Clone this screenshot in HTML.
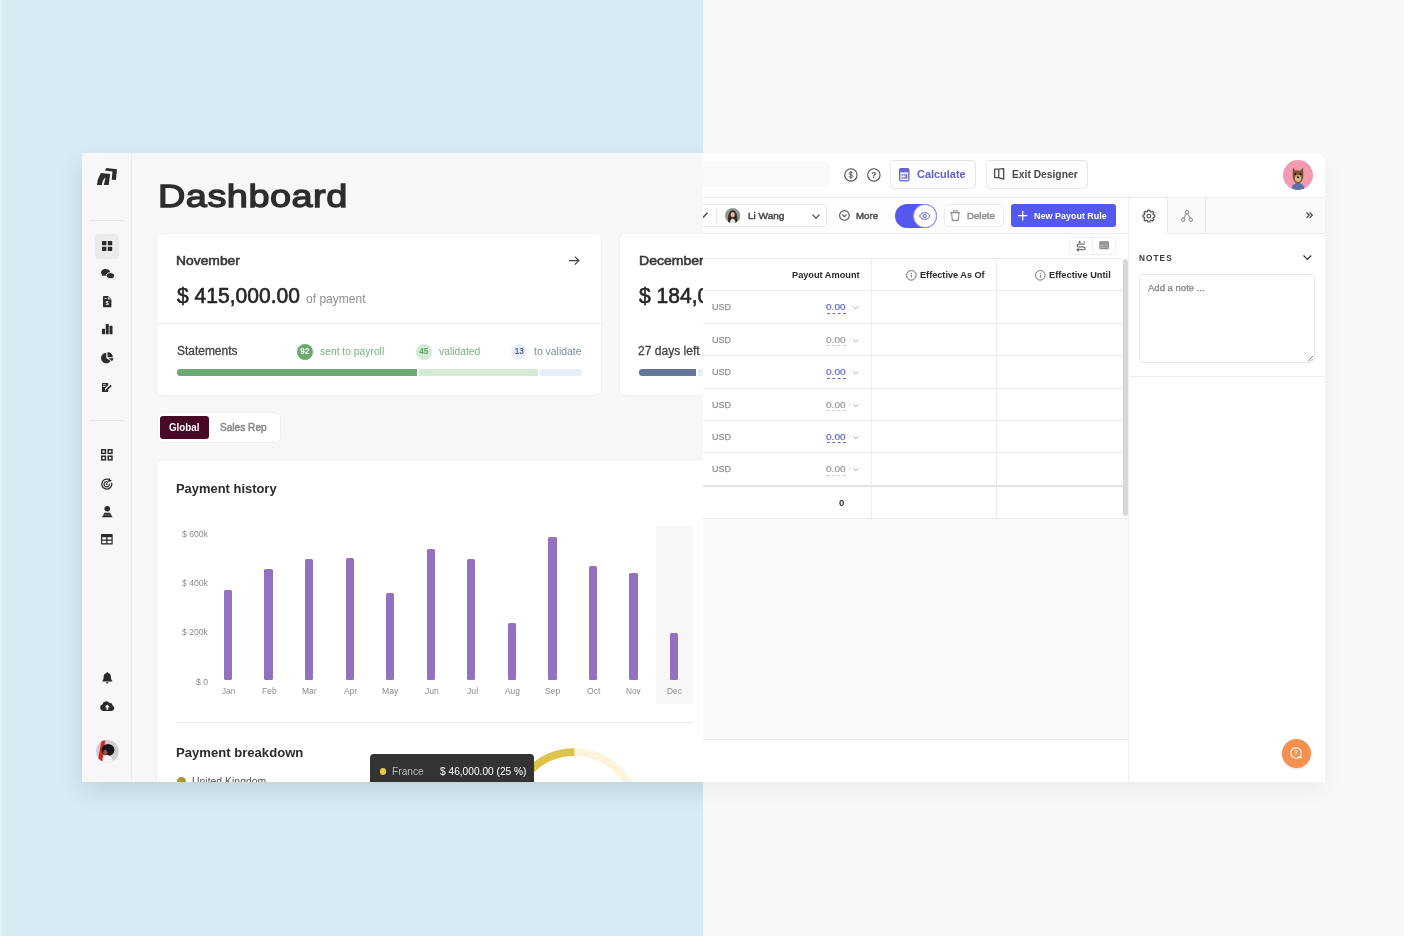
<!DOCTYPE html>
<html>
<head>
<meta charset="utf-8">
<title>Dashboard</title>
<style>
*{box-sizing:border-box;margin:0;padding:0}
html,body{width:1404px;height:936px;overflow:hidden}
body{font-family:"Liberation Sans",sans-serif;background:#f8f8f8;position:relative;color:#2b2b2b}
.abs{position:absolute}
.bgL{left:0;top:0;width:703px;height:936px;background:#d8ebf2}
.bgL:before{content:"";position:absolute;left:0;top:0;width:2px;height:936px;background:#e4f2f7}
.bgR{left:703px;top:0;width:701px;height:936px;background:#f8f8f8}
.shadow{left:84px;top:160px;width:1239px;height:620px}
.shL{box-shadow:0 8px 24px 1px rgba(40,70,90,.16);clip-path:polygon(-84px -160px,619px -160px,619px 780px,-84px 780px)}
.shR{box-shadow:0 8px 24px 1px rgba(0,0,0,.055);clip-path:polygon(619px -160px,1400px -160px,1400px 780px,619px 780px)}
/* clip containers use page coordinates */
.clipL{left:0;top:0;width:703px;height:782px;overflow:hidden;will-change:transform}
.clipR{left:703px;top:0;width:622px;height:782px;overflow:hidden;will-change:transform}
.clipR .in{position:absolute;left:-703px;top:0;width:1404px;height:782px}
.winL{left:82px;top:153px;width:621px;height:629px;background:#f7f7f7}
.sideb{left:131.2px;top:153px;width:1px;height:629px;background:#ebebeb}
.hr{position:absolute;height:1px;background:#e6e6e6}
.ico{position:absolute}
.ico svg{display:block;width:100%;height:100%;overflow:visible}
.act{left:94.5px;top:233.8px;width:24.6px;height:25.2px;border-radius:4px;background:#ebebeb}
h1{position:absolute;left:157.5px;top:176px;font-size:32px;line-height:40px;font-weight:400;color:#2d2d2d;-webkit-text-stroke:1.3px #2d2d2d;letter-spacing:.4px;transform-origin:0 50%;transform:scaleX(1.185);white-space:nowrap}
.card{position:absolute;background:#fff;border:1px solid #efefef;border-radius:6px}
.t{position:absolute;white-space:nowrap;line-height:1;transform-origin:0 50%}
.b{font-weight:700}
.g{color:#8a8a8a}
</style>
</head>
<body>
<div class="abs bgL"></div>
<div class="abs bgR"></div>
<div class="abs shadow shL"></div>
<div class="abs shadow shR"></div>

<!-- LEFT WINDOW : DASHBOARD -->
<div class="abs clipL" id="L">
  <div class="abs winL"></div>
  <div class="abs sideb"></div>
  <div class="hr" style="left:90px;top:220px;width:34px"></div>
  <div class="hr" style="left:90px;top:420px;width:34px"></div>
  <div class="abs act"></div>
  <h1 id="h1">Dashboard</h1>
<div class="ico" style="left:97px;top:168px;width:20px;height:17.5px;"><svg viewBox="0 0 20 17.5"><path fill="#2b2b2b" d="M9.350 .1 L19.950 1.300 L18.950 12 L14.700 11.750 L15.500 3.450 L8 2.550 Z"/><path fill="#2b2b2b" d="M3.900 4.900 L13.100 6.100 L11.750 17 L6.800 17 L8.500 9.600 Q5.400 12 4.900 17 L0 17 Q.3 11.500 2.200 8.500 Z"/></svg></div>
<div class="ico" style="left:102px;top:240.6px;width:10.2px;height:10px;"><svg viewBox="0 0 10.2 10"><g fill="#2b2b2b"><rect x="0" y="0" width="4.4" height="4.3" rx=".4"/><rect x="5.8" y="0" width="4.4" height="4.3" rx=".4"/><rect x="0" y="5.7" width="4.4" height="4.3" rx=".4"/><rect x="5.8" y="5.7" width="4.4" height="4.3" rx=".4"/></g></svg></div>
<div class="ico" style="left:100.6px;top:269.2px;width:13.4px;height:10.2px;"><svg viewBox="0 0 13.4 10.2"><g fill="#2b2b2b"><path d="M4.6 0C2.1 0 0 1.5 0 3.4c0 .9.5 1.7 1.2 2.3L.5 7.3l2.2-.8c.6.2 1.2.3 1.9.3 2.5 0 4.6-1.5 4.6-3.4S7.100 0 4.600 0z"/><path stroke="#f7f7f7" stroke-width=".9" d="M9.400 3.600c2.300 0 4.100 1.400 4.100 3.100 0 .8-.4 1.600-1.100 2.100l.7 1.400-2.100-.7c-.5.100-1 .200-1.600.200-2.300 0-4.100-1.400-4.100-3s1.800-3.100 4.100-3.100z"/></g></svg></div>
<div class="ico" style="left:102.7px;top:296px;width:8.4px;height:11.2px;"><svg viewBox="0 0 8.4 11.2"><path fill="#2b2b2b" d="M.8 0H5l3.400 3.400v7a.8.8 0 0 1-.8.800H.8a.8.8 0 0 1-.8-.800V.8A.8.800 0 0 1 .8 0z"/><path fill="#f7f7f7" d="M4.800.700v2.900h2.900z" opacity=".85"/><text x="4.200" y="9.300" font-size="6" font-weight="700" fill="#f7f7f7" text-anchor="middle" font-family="Liberation Sans">$</text><rect x="1.6" y="2" width="2" height=".9" fill="#f7f7f7"/></svg></div>
<div class="ico" style="left:101.7px;top:324.4px;width:10.5px;height:10.2px;"><svg viewBox="0 0 10.5 10.2"><g fill="#2b2b2b"><rect x="0" y="4.700" width="3" height="5.500" rx=".3"/><rect x="3.750" y="0" width="3" height="10.200" rx=".3"/><rect x="7.500" y="1.800" width="3" height="8.400" rx=".3"/></g></svg></div>
<div class="ico" style="left:101.2px;top:352.1px;width:12.5px;height:11.3px;"><svg viewBox="0 0 12.5 11.3"><g fill="#2b2b2b"><path d="M5.300.800A5.250 5.250 0 1 0 9.600 9.100L5.300 6.050z"/><path d="M6.600 0v5.200h5.200A5.200 5.200 0 0 0 6.600 0z"/><path d="M7.600 6.300h4.900a5.200 5.200 0 0 1-1.500 2.900z"/></g></svg></div>
<div class="ico" style="left:102px;top:383.1px;width:9.8px;height:9px;"><svg viewBox="0 0 9.8 9"><path fill="#2b2b2b" d="M.6 0h5.600v2.200L3.300 5.100 2.900 7.400l2.300-.4L6.200 6v3H0V.6A.6.600 0 0 1 .6 0z"/><path fill="#2b2b2b" d="M8.500 1.700l1.200 1.200-4.700 4.700-1.600.4.400-1.600z"/><rect x="1" y="1.400" width="3" height=".8" fill="#f7f7f7"/><rect x="1" y="3" width="2.200" height=".8" fill="#f7f7f7"/></svg></div>
<div class="ico" style="left:101.2px;top:449.3px;width:11.7px;height:11.6px;"><svg viewBox="0 0 11.7 11.6"><g fill="none" stroke="#2b2b2b" stroke-width="1.5"><rect x=".75" y=".75" width="3.700" height="3.600"/><rect x="7.250" y=".75" width="3.700" height="3.600"/><rect x=".75" y="7.250" width="3.700" height="3.600"/><rect x="7.250" y="7.250" width="3.700" height="3.600"/></g></svg></div>
<div class="ico" style="left:101.2px;top:477.7px;width:11.7px;height:11.4px;"><svg viewBox="0 0 11.7 11.4"><g fill="none" stroke="#2b2b2b"><path stroke-width="1.300" d="M7.600 1.400A5 5 0 1 0 10.600 4.600"/><path stroke-width="1.200" d="M6.400 3.600A2.700 2.700 0 1 0 8.400 5.700"/></g><circle cx="5.700" cy="6.200" r=".9" fill="#2b2b2b"/><path fill="#2b2b2b" d="M8.800 0l.3 1.800 1.800.4-1.700 1.600-1.500-.2-1.700 2-.700-.600 1.900-1.900-.2-1.400z"/></svg></div>
<div class="ico" style="left:101.7px;top:505.9px;width:10.5px;height:11.2px;"><svg viewBox="0 0 10.5 11.2"><g fill="#2b2b2b"><circle cx="5.250" cy="2.800" r="2.800"/><path d="M2.400 6.800h5.700l2.400 4.400H0z"/></g><rect x="1" y="8.700" width="8.500" height=".55" fill="#f7f7f7" opacity=".6"/></svg></div>
<div class="ico" style="left:101.2px;top:534px;width:11.7px;height:10.5px;"><svg viewBox="0 0 11.7 10.5"><rect x="0" y="0" width="11.700" height="10.500" rx=".7" fill="#2b2b2b"/><g fill="#f7f7f7"><rect x="1.200" y="3.200" width="4" height="2.300"/><rect x="6.500" y="3.200" width="4" height="2.300"/><rect x="1.200" y="6.800" width="4" height="2.400"/><rect x="6.500" y="6.800" width="4" height="2.400"/></g></svg></div>
<div class="ico" style="left:101.7px;top:671.5px;width:10.4px;height:11.6px;"><svg viewBox="0 0 10.4 11.6"><g fill="#2b2b2b"><path d="M5.200 0c.5 0 .8.300.8.800v.3c1.800.4 3 1.900 3 3.800 0 2.300.6 3.300 1.300 4 .2.200.1.700-.3.700H.6c-.4 0-.5-.5-.3-.7.700-.7 1.300-1.700 1.300-4 0-1.900 1.200-3.400 3-3.800V.8c0-.5.300-.8.600-.8z"/><path d="M3.800 10.200h2.800a1.400 1.400 0 0 1-2.800 0z"/></g></svg></div>
<div class="ico" style="left:99.7px;top:700.6px;width:14.6px;height:10px;"><svg viewBox="0 0 14.6 10"><path fill="#2b2b2b" d="M3.300 10A3.300 3.300 0 0 1 2.400 3.600 3.700 3.700 0 0 1 9 1.800a3 3 0 0 1 3.600 2.700A2.900 2.900 0 0 1 11.700 10z"/><path fill="#f7f7f7" d="M7.300 3.400l2.500 2.800H8.200v2.500H6.400V6.200H4.800z"/></svg></div>
<div class="ico" style="left:95.8px;top:740px;width:22.7px;height:22.7px;"><svg viewBox="0 0 22.7 22.7"><defs><clipPath id="av1"><circle cx="11.35" cy="11.35" r="11.35"/></clipPath></defs><g clip-path="url(#av1)"><rect width="22.7" height="22.7" fill="#cfd0cf"/><path fill="#d8272b" d="M5.5 0h3.800L6 22.700H1.500z"/><ellipse cx="12" cy="10" rx="6.500" ry="5.900" fill="#1c1718"/><ellipse cx="9.300" cy="12.300" rx="2" ry="2.600" fill="#8a5a44"/><path fill="#f4f4f2" d="M6.800 22.700c0-4 1.300-7.300 4-8 3.500.5 6.500 4 7 8z"/></g></svg></div>
<div class="card" style="left:156.4px;top:232.5px;width:445.3px;height:163px"></div>
<div class="abs" style="left:157.4px;top:323.1px;width:443.3px;height:1.2px;background:#ededed;"></div>
<div class="t" style="left:176.26px;top:254px;font-size:13.4px;color:#383838;-webkit-text-stroke:0.58px #383838;transform:scaleX(1.0348);">November</div>
<div class="t" style="left:177.17px;top:285px;font-size:21.6px;color:#262626;-webkit-text-stroke:0.62px #262626;transform:scaleX(0.9748);">$ 415,000.00</div>
<div class="t" style="left:305.69px;top:293px;font-size:12.2px;color:#8e8e8e;transform:scaleX(0.9873);">of payment</div>
<div class="ico" style="left:568.6px;top:256.2px;width:10.6px;height:9.1px;"><svg viewBox="0 0 11.6 10"><path fill="none" stroke="#444" stroke-width="1.300" d="M0 5h10.600M6.400.600L10.800 5 6.400 9.400"/></svg></div>
<div class="t" style="left:176.71px;top:345px;font-size:12px;color:#444;-webkit-text-stroke:0.30px #444;transform:scaleX(0.9963);">Statements</div>
<div class="abs" style="left:296.9px;top:343.5px;width:16px;height:16px;background:#6aaa6e;border-radius:50%"></div>
<div class="t" style="left:300.36px;top:348px;font-size:8.2px;color:#fff;font-weight:700;">92</div>
<div class="t" style="left:319.71px;top:346px;font-size:10.7px;color:#77b37a;transform:scaleX(0.9649);">sent to payroll</div>
<div class="abs" style="left:415.7px;top:343.5px;width:16px;height:16px;background:#d6ebd6;border-radius:50%"></div>
<div class="t" style="left:419.19px;top:348px;font-size:8.2px;color:#62a567;font-weight:700;">45</div>
<div class="t" style="left:438.56px;top:346px;font-size:10.7px;color:#77b37a;transform:scaleX(0.9642);">validated</div>
<div class="abs" style="left:511.4px;top:343.5px;width:16px;height:16px;background:#e8eef9;border-radius:50%"></div>
<div class="t" style="left:514.63px;top:348px;font-size:8.2px;color:#56688f;font-weight:700;">13</div>
<div class="t" style="left:534.24px;top:346px;font-size:10.7px;color:#7a88a8;transform:scaleX(0.9742);">to validate</div>
<div class="abs" style="left:177px;top:369.3px;width:240.3px;height:6.3px;background:#6aaa6e;border-radius:3.2px 0 0 3.2px"></div>
<div class="abs" style="left:419.2px;top:369.3px;width:118.8px;height:6.3px;background:#d6ebd6;"></div>
<div class="abs" style="left:540.1px;top:369.3px;width:41.5px;height:6.3px;background:#e8eef9;border-radius:0 3.2px 3.2px 0"></div>
<div class="card" style="left:618.7px;top:232.5px;width:445.3px;height:163px"></div>
<div class="t" style="left:638.65px;top:254px;font-size:13.4px;color:#383838;-webkit-text-stroke:0.57px #383838;transform:scaleX(1.0481);">December</div>
<div class="t" style="left:639.27px;top:285px;font-size:21.6px;color:#262626;-webkit-text-stroke:0.62px #262626;transform:scaleX(0.9748);">$ 184,000.00</div>
<div class="t" style="left:638.34px;top:345px;font-size:12px;color:#444;-webkit-text-stroke:0.30px #444;transform:scaleX(1.0053);">27 days left</div>
<div class="abs" style="left:638.8px;top:369.3px;width:57.5px;height:6.3px;background:#66759a;border-radius:3.2px 0 0 3.2px"></div>
<div class="abs" style="left:698px;top:369.3px;width:100px;height:6.3px;background:#e8eef9;"></div>
<div class="card" style="left:156.6px;top:411.7px;width:124.3px;height:31.1px;border-radius:5.5px"></div>
<div class="abs" style="left:160.4px;top:415.7px;width:48.4px;height:23.2px;background:#4a0828;border-radius:3px"></div>
<div class="t" style="left:169.10px;top:422px;font-size:10.5px;color:#fff;font-weight:700;transform:scaleX(0.9335);">Global</div>
<div class="t" style="left:219.59px;top:422px;font-size:10.8px;color:#8a8a8a;-webkit-text-stroke:0.53px #8a8a8a;transform:scaleX(0.9369);">Sales Rep</div>
<div class="card" style="left:156.4px;top:458.8px;width:700px;height:400px"></div>
<div class="t" style="left:176.23px;top:482px;font-size:13.6px;color:#2b2b2b;font-weight:700;transform:scaleX(0.9510);">Payment history</div>
<div class="t" style="left:182.11px;top:530px;font-size:9px;color:#8c8c8c;transform:scaleX(0.9577);">$ 600k</div>
<div class="t" style="left:182.11px;top:579px;font-size:9px;color:#8c8c8c;transform:scaleX(0.9577);">$ 400k</div>
<div class="t" style="left:182.11px;top:628px;font-size:9px;color:#8c8c8c;transform:scaleX(0.9577);">$ 200k</div>
<div class="t" style="left:196.31px;top:678px;font-size:9px;color:#8c8c8c;transform:scaleX(0.9616);">$ 0</div>
<div class="abs" style="left:656.4px;top:526.2px;width:37.3px;height:177.8px;background:#f7f7f7;border-radius:3px"></div>
<div class="abs" style="left:223.9px;top:589.6px;width:8.3px;height:90.3px;background:#9470c1;border-radius:1.5px"></div>
<div class="t" style="left:222.12px;top:687px;font-size:9px;color:#8c8c8c;transform:scaleX(0.9140);">Jan</div>
<div class="abs" style="left:264.45px;top:568.7px;width:8.3px;height:111.2px;background:#9470c1;border-radius:1.5px"></div>
<div class="t" style="left:261.60px;top:687px;font-size:9px;color:#8c8c8c;transform:scaleX(0.9449);">Feb</div>
<div class="abs" style="left:305.0px;top:559px;width:8.3px;height:120.9px;background:#9470c1;border-radius:1.5px"></div>
<div class="t" style="left:302.05px;top:687px;font-size:9px;color:#8c8c8c;transform:scaleX(0.9444);">Mar</div>
<div class="abs" style="left:345.55px;top:557.6px;width:8.3px;height:122.3px;background:#9470c1;border-radius:1.5px"></div>
<div class="t" style="left:343.78px;top:687px;font-size:9px;color:#8c8c8c;transform:scaleX(0.9249);">Apr</div>
<div class="abs" style="left:386.1px;top:592.5px;width:8.3px;height:87.4px;background:#9470c1;border-radius:1.5px"></div>
<div class="t" style="left:382.24px;top:687px;font-size:9px;color:#8c8c8c;transform:scaleX(0.9602);">May</div>
<div class="abs" style="left:426.65px;top:549.4px;width:8.3px;height:130.5px;background:#9470c1;border-radius:1.5px"></div>
<div class="t" style="left:424.57px;top:687px;font-size:9px;color:#8c8c8c;transform:scaleX(0.9575);">Jun</div>
<div class="abs" style="left:467.2px;top:559px;width:8.3px;height:120.9px;background:#9470c1;border-radius:1.5px"></div>
<div class="t" style="left:466.51px;top:687px;font-size:9px;color:#8c8c8c;transform:scaleX(0.9663);">Jul</div>
<div class="abs" style="left:507.75px;top:623.1px;width:8.3px;height:56.8px;background:#9470c1;border-radius:1.5px"></div>
<div class="t" style="left:505.18px;top:687px;font-size:9px;color:#8c8c8c;transform:scaleX(0.9341);">Aug</div>
<div class="abs" style="left:548.3px;top:536.9px;width:8.3px;height:143.0px;background:#9470c1;border-radius:1.5px"></div>
<div class="t" style="left:545.26px;top:687px;font-size:9px;color:#8c8c8c;transform:scaleX(0.9588);">Sep</div>
<div class="abs" style="left:588.85px;top:566px;width:8.3px;height:113.9px;background:#9470c1;border-radius:1.5px"></div>
<div class="t" style="left:586.59px;top:687px;font-size:9px;color:#8c8c8c;transform:scaleX(0.9624);">Oct</div>
<div class="abs" style="left:629.4px;top:572.9px;width:8.3px;height:107.0px;background:#9470c1;border-radius:1.5px"></div>
<div class="t" style="left:626.37px;top:687px;font-size:9px;color:#8c8c8c;transform:scaleX(0.9189);">Nov</div>
<div class="abs" style="left:669.95px;top:632.7px;width:8.3px;height:47.2px;background:#9470c1;border-radius:1.5px"></div>
<div class="t" style="left:666.91px;top:687px;font-size:9px;color:#8c8c8c;transform:scaleX(0.9315);">Dec</div>
<div class="abs" style="left:177px;top:722.1px;width:516.3px;height:1.1px;background:#e9e9e9;"></div>
<div class="t" style="left:176.02px;top:746px;font-size:13.6px;color:#2b2b2b;font-weight:700;transform:scaleX(0.9631);">Payment breakdown</div>
<div class="abs" style="left:176.8px;top:776.6px;width:9.6px;height:9.6px;background:#a79a2a;border-radius:50%"></div>
<div class="t" style="left:192.09px;top:776px;font-size:10.6px;color:#555;transform:scaleX(0.9850);">United Kingdom</div>
<div class="ico" style="left:508px;top:748px;width:133px;height:133px;"><svg viewBox="0 0 133 133"><circle cx="66.5" cy="66.5" r="62.4" fill="none" stroke="#fcf4dc" stroke-width="7.800"/><path d="M66.500 4.100A62.400 62.400 0 0 0 4.100 66.500" fill="none" stroke="#dcc34a" stroke-width="7.800"/></svg></div>
<div class="abs" style="left:370.2px;top:754.2px;width:164px;height:40px;background:#333333;border-radius:4px"></div>
<div class="abs" style="left:379.5px;top:768px;width:6.6px;height:6.6px;background:#e6c94b;border-radius:50%"></div>
<div class="t" style="left:391.86px;top:767px;font-size:10.4px;color:#bcbcbc;transform:scaleX(0.9822);">France</div>
<div class="t" style="left:439.59px;top:767px;font-size:10.4px;color:#ffffff;transform:scaleX(0.9783);">$ 46,000.00 (25 %)</div>
</div>

<!-- RIGHT WINDOW : DESIGNER -->
<div class="abs clipR" id="R"><div class="in">
<div class="abs" style="left:703px;top:153px;width:622px;height:629px;background:#ffffff;border-radius:0 9px 0 0"></div>
<div class="abs" style="left:703px;top:162px;width:127.3px;height:24.5px;background:#f7f9fb;border-radius:0 3px 3px 0"></div>
<div class="ico" style="left:843.6px;top:167.5px;width:13.8px;height:13.8px;"><svg viewBox="0 0 13.8 13.8"><circle cx="6.9" cy="6.9" r="6.200" fill="none" stroke="#4a4a4a" stroke-width="1.100"/><path d="M8.700 5.300C8.500 4.500 7.800 4.100 6.900 4.100 5.900 4.100 5.200 4.600 5.200 5.400c0 1.900 3.500.9 3.500 2.900 0 .8-.8 1.300-1.800 1.300-1 0-1.700-.5-1.900-1.300M6.900 3v7.800" fill="none" stroke="#4a4a4a" stroke-width=".95"/></svg></div>
<div class="ico" style="left:867px;top:167.5px;width:13.8px;height:13.8px;"><svg viewBox="0 0 13.8 13.8"><circle cx="6.9" cy="6.9" r="6.200" fill="none" stroke="#4a4a4a" stroke-width="1.100"/><text x="6.900" y="9.800" font-size="8.500" font-weight="700" fill="#4a4a4a" text-anchor="middle" font-family="Liberation Sans">?</text></svg></div>
<div class="abs" style="left:890.2px;top:159.8px;width:85.7px;height:29.3px;background:#fff;border:1px solid #e4e4e4;border-radius:4px"></div>
<div class="ico" style="left:898.8px;top:167.6px;width:10.5px;height:13.6px;"><svg viewBox="0 0 10.5 13.6"><rect x=".65" y=".65" width="9.200" height="12.300" rx="1.400" fill="#eceeff" stroke="#6366cf" stroke-width="1.300"/><rect x=".65" y=".65" width="9.200" height="3.600" fill="#6366cf"/><g fill="#6366cf"><rect x="2.600" y="6.200" width="1.500" height="1.400"/><rect x="4.600" y="6.200" width="1.500" height="1.400"/><rect x="6.600" y="6.200" width="1.500" height="4.500"/><rect x="2.600" y="9.200" width="1.500" height="1.400"/><rect x="4.600" y="9.200" width="1.500" height="1.400"/></g></svg></div>
<div class="t" style="left:917.15px;top:169px;font-size:11.3px;color:#5d60c6;font-weight:700;transform:scaleX(0.9677);">Calculate</div>
<div class="abs" style="left:985.8px;top:159.8px;width:102.7px;height:29.3px;background:#fff;border:1px solid #e4e4e4;border-radius:4px"></div>
<div class="ico" style="left:993.9px;top:168.4px;width:10.4px;height:11.8px;"><svg viewBox="0 0 10.4 11.8"><path fill="none" stroke="#4a4a4a" stroke-width="1.300" stroke-linejoin="round" d="M4.700 1.200H.65v8.400h4.050M4.700 1.200L9.700.65v10.500l-5-1.550z"/></svg></div>
<div class="t" style="left:1012.21px;top:169px;font-size:11.3px;color:#4a4a4a;font-weight:700;transform:scaleX(0.9089);">Exit Designer</div>
<div class="ico" style="left:1283.4px;top:160px;width:30px;height:30px;"><svg viewBox="0 0 30 30"><defs><clipPath id="av2"><circle cx="15" cy="15" r="15"/></clipPath></defs><g clip-path="url(#av2)"><rect width="30" height="30" fill="#f29bb0"/><path fill="#5b73a8" d="M8.500 30c0-4.500 2.500-7 6.500-7s6.500 2.500 6.500 7z"/><path fill="#80502f" d="M10 7.500l2.300 3h5.400l2.300-3 .4 7.500c0 4.500-2.200 8.500-5.400 8.500S9.600 19.500 9.600 15z"/><ellipse cx="15" cy="18.500" rx="3.200" ry="3.400" fill="#d9b98c"/><ellipse cx="15" cy="17.200" rx="1.300" ry=".9" fill="#2a1c14"/><circle cx="12.300" cy="14" r=".9" fill="#1e140f"/><circle cx="17.700" cy="14" r=".9" fill="#1e140f"/></g></svg></div>
<div class="abs" style="left:703px;top:196.6px;width:622px;height:1.2px;background:#ececec;"></div>
<div class="abs" style="left:703px;top:197.8px;width:425.8px;height:35px;background:#fdfdfe;"></div>
<div class="abs" style="left:690px;top:204.3px;width:136.8px;height:22.8px;background:#fff;border:1px solid #e9e9e9;border-radius:3px"></div>
<div class="ico" style="left:703px;top:212px;width:5px;height:6px;"><svg viewBox="0 0 5 6"><path d="M0 5.500L4.500.8" stroke="#444" stroke-width="1.500" fill="none"/></svg></div>
<div class="abs" style="left:715.6px;top:208.5px;width:1px;height:14px;background:#e6e6e6;"></div>
<div class="ico" style="left:724.9px;top:208px;width:15.3px;height:15.3px;"><svg viewBox="0 0 15.3 15.3"><defs><clipPath id="av3"><circle cx="7.650" cy="7.650" r="7.650"/></clipPath></defs><g clip-path="url(#av3)"><rect width="15.300" height="15.300" fill="#8f9a92"/><path fill="#3a2a25" d="M3.200 15.300C2.500 9 3.500 2.500 7.700 2.300c4.200.2 5.200 6.700 4.500 13z"/><ellipse cx="7.700" cy="6.700" rx="2.100" ry="2.600" fill="#e3b9a4"/><path fill="#f0e4df" d="M4.800 15.300c.2-3 1.300-4.600 2.900-4.600s2.700 1.600 2.900 4.600z"/></g></svg></div>
<div class="t" style="left:748.30px;top:211px;font-size:9.5px;color:#444;-webkit-text-stroke:0.43px #444;transform:scaleX(1.0557);">Li Wang</div>
<div class="ico" style="left:812.1px;top:213.6px;width:8px;height:5px;"><svg viewBox="0 0 8 5"><path d="M.5.600L4 4.100 7.500.600" stroke="#444" stroke-width="1.200" fill="none"/></svg></div>
<div class="ico" style="left:839.2px;top:210.3px;width:10.9px;height:10.9px;"><svg viewBox="0 0 10.6 10.6"><circle cx="5.300" cy="5.300" r="4.700" fill="none" stroke="#555" stroke-width="1.100"/><path d="M3.300 4.500l2 2 2-2" fill="none" stroke="#555" stroke-width="1.100"/></svg></div>
<div class="t" style="left:856.13px;top:211px;font-size:9.4px;color:#4a4a4a;-webkit-text-stroke:0.43px #4a4a4a;transform:scaleX(1.0357);">More</div>
<div class="abs" style="left:895.3px;top:204px;width:41.3px;height:23.7px;background:#5558ec;border-radius:12px"></div>
<div class="abs" style="left:913px;top:204px;width:23.7px;height:23.7px;background:#fff;border-radius:50%;border:1.1px solid #8d8ff2"></div>
<div class="ico" style="left:919.2px;top:211.6px;width:11.4px;height:8px;"><svg viewBox="0 0 11.4 8"><path d="M.5 4C2 1.500 3.800.600 5.700.600S9.400 1.500 10.900 4C9.400 6.500 7.600 7.400 5.700 7.400S2 6.500.5 4z" fill="none" stroke="#5558ec" stroke-width="1"/><circle cx="5.700" cy="4" r="1.600" fill="none" stroke="#5558ec" stroke-width="1"/></svg></div>
<div class="abs" style="left:944.2px;top:204.1px;width:59.6px;height:23px;background:#fff;border:1px solid #ededed;border-radius:3px"></div>
<div class="ico" style="left:949.7px;top:210.4px;width:10.5px;height:11px;"><svg viewBox="0 0 10.5 11"><g fill="none" stroke="#8c8c8c" stroke-width="1.100"><path d="M.3 2.600h9.900M3.500 2.400V.800h3.500v1.600M1.600 2.800l.7 7.600h5.900l.7-7.600"/></g></svg></div>
<div class="t" style="left:966.73px;top:211px;font-size:9.4px;color:#8c8c8c;-webkit-text-stroke:0.44px #8c8c8c;transform:scaleX(1.0256);">Delete</div>
<div class="abs" style="left:1011.3px;top:204.1px;width:104.6px;height:23.2px;background:#5558ec;border-radius:3px"></div>
<div class="ico" style="left:1018px;top:210.9px;width:9.4px;height:9.4px;"><svg viewBox="0 0 9.4 9.4"><path d="M4.700 0v9.400M0 4.700h9.400" stroke="#fff" stroke-width="1.300"/></svg></div>
<div class="t" style="left:1033.80px;top:212px;font-size:9.2px;color:#fff;font-weight:700;transform:scaleX(0.9768);">New Payout Rule</div>
<div class="abs" style="left:703px;top:232.7px;width:425.8px;height:1.2px;background:#ececec;"></div>
<div class="abs" style="left:1069.3px;top:237.2px;width:46.6px;height:17.4px;background:#fff;border:1px solid #efefef;border-radius:2.5px"></div>
<div class="abs" style="left:1092.4px;top:238px;width:1px;height:15.8px;background:#efefef;"></div>
<div class="ico" style="left:1076.4px;top:240.6px;width:10.5px;height:10px;"><svg viewBox="0 0 10.5 10"><g fill="none" stroke="#555" stroke-width="1.050" stroke-linecap="round"><path d="M8.200 2.900H2.700a1.500 1.500 0 0 0 0 3h5a1.450 1.450 0 0 1 0 2.900H1.300"/><path d="M2.500 7.700L1.200 8.800l1.300 1.100"/><path d="M3.700 .2v1.400M3 .9h1.400"/></g><circle cx="8.300" cy="1" r=".75" fill="#555"/></svg></div>
<div class="ico" style="left:1099.1px;top:241.3px;width:10.3px;height:8.6px;"><svg viewBox="0 0 10.3 8.6"><rect x=".3" y=".3" width="9.700" height="8" rx="1.100" fill="#8c8c8c"/><path d="M1 2.900h8.300M1 4.700h8.300M1 6.500h8.300M3.300 2.900v4.600" stroke="#c6c6c6" stroke-width=".6" fill="none"/></svg></div>
<div class="abs" style="left:703px;top:258px;width:419.5px;height:1.1px;background:#ebebeb;"></div>
<div class="abs" style="left:703px;top:290.3px;width:419.5px;height:1.1px;background:#ebebeb;"></div>
<div class="abs" style="left:703px;top:322.7px;width:419.5px;height:1.1px;background:#ebebeb;"></div>
<div class="abs" style="left:703px;top:355.2px;width:419.5px;height:1.1px;background:#ebebeb;"></div>
<div class="abs" style="left:703px;top:387.6px;width:419.5px;height:1.1px;background:#ebebeb;"></div>
<div class="abs" style="left:703px;top:419.8px;width:419.5px;height:1.1px;background:#ebebeb;"></div>
<div class="abs" style="left:703px;top:452.2px;width:419.5px;height:1.1px;background:#ebebeb;"></div>
<div class="abs" style="left:703px;top:484.8px;width:419.5px;height:2.2px;background:#e4e4e4;"></div>
<div class="abs" style="left:703px;top:517.7px;width:425.8px;height:1.1px;background:#ebebeb;"></div>
<div class="abs" style="left:871px;top:258px;width:1.1px;height:260px;background:#ebebeb;"></div>
<div class="abs" style="left:996.2px;top:258px;width:1.1px;height:260px;background:#ebebeb;"></div>
<div class="t" style="left:792.08px;top:270px;font-size:9.6px;color:#2b2b2b;font-weight:700;transform:scaleX(0.9582);">Payout Amount</div>
<div class="ico" style="left:905.8px;top:269.8px;width:10.7px;height:10.7px;"><svg viewBox="0 0 10 10"><circle cx="5" cy="5" r="4.500" fill="none" stroke="#6a6a6a" stroke-width=".9"/><path d="M5 4.700v2.300" fill="none" stroke="#6a6a6a" stroke-width=".9"/><circle cx="5" cy="3.400" r=".55" fill="#6a6a6a"/></svg></div>
<div class="t" style="left:919.99px;top:270px;font-size:9.6px;color:#2b2b2b;font-weight:700;transform:scaleX(0.9523);">Effective As Of</div>
<div class="ico" style="left:1035.3px;top:269.8px;width:10.7px;height:10.7px;"><svg viewBox="0 0 10 10"><circle cx="5" cy="5" r="4.500" fill="none" stroke="#6a6a6a" stroke-width=".9"/><path d="M5 4.700v2.300" fill="none" stroke="#6a6a6a" stroke-width=".9"/><circle cx="5" cy="3.400" r=".55" fill="#6a6a6a"/></svg></div>
<div class="t" style="left:1048.78px;top:270px;font-size:9.6px;color:#2b2b2b;font-weight:700;transform:scaleX(0.9650);">Effective Until</div>
<div class="t" style="left:712.43px;top:303px;font-size:9.2px;color:#929292;-webkit-text-stroke:0.25px #929292;transform:scaleX(0.9822);">USD</div>
<div class="t" style="left:826.43px;top:302px;font-size:9.6px;color:#6568cf;-webkit-text-stroke:0.24px #6568cf;transform:scaleX(1.0510);">0.00</div>
<div class="abs" style="left:826.7px;top:312.6px;width:19.1px;height:0;border-top:1px dashed #6568cf"></div>
<div class="ico" style="left:853.3px;top:306.4px;width:5.6px;height:3.4px;"><svg viewBox="0 0 5.6 3.4"><path d="M.4.400l2.400 2.400L5.200.400" fill="none" stroke="#9a9a9a" stroke-width=".9"/></svg></div>
<div class="t" style="left:712.43px;top:336px;font-size:9.2px;color:#929292;-webkit-text-stroke:0.25px #929292;transform:scaleX(0.9822);">USD</div>
<div class="t" style="left:826.43px;top:335px;font-size:9.6px;color:#9a9a9a;-webkit-text-stroke:0.24px #9a9a9a;transform:scaleX(1.0510);">0.00</div>
<div class="abs" style="left:826.7px;top:345.1px;width:19.1px;height:0;border-top:1px dashed #c9c9c9"></div>
<div class="ico" style="left:853.3px;top:338.9px;width:5.6px;height:3.4px;"><svg viewBox="0 0 5.6 3.4"><path d="M.4.400l2.400 2.400L5.200.400" fill="none" stroke="#9a9a9a" stroke-width=".9"/></svg></div>
<div class="t" style="left:712.43px;top:368px;font-size:9.2px;color:#929292;-webkit-text-stroke:0.25px #929292;transform:scaleX(0.9822);">USD</div>
<div class="t" style="left:826.43px;top:367px;font-size:9.6px;color:#6568cf;-webkit-text-stroke:0.24px #6568cf;transform:scaleX(1.0510);">0.00</div>
<div class="abs" style="left:826.7px;top:377.5px;width:19.1px;height:0;border-top:1px dashed #6568cf"></div>
<div class="ico" style="left:853.3px;top:371.29999999999995px;width:5.6px;height:3.4px;"><svg viewBox="0 0 5.6 3.4"><path d="M.4.400l2.400 2.400L5.200.400" fill="none" stroke="#9a9a9a" stroke-width=".9"/></svg></div>
<div class="t" style="left:712.43px;top:401px;font-size:9.2px;color:#929292;-webkit-text-stroke:0.25px #929292;transform:scaleX(0.9822);">USD</div>
<div class="t" style="left:826.43px;top:400px;font-size:9.6px;color:#9a9a9a;-webkit-text-stroke:0.24px #9a9a9a;transform:scaleX(1.0510);">0.00</div>
<div class="abs" style="left:826.7px;top:409.9px;width:19.1px;height:0;border-top:1px dashed #c9c9c9"></div>
<div class="ico" style="left:853.3px;top:403.7px;width:5.6px;height:3.4px;"><svg viewBox="0 0 5.6 3.4"><path d="M.4.400l2.400 2.400L5.200.400" fill="none" stroke="#9a9a9a" stroke-width=".9"/></svg></div>
<div class="t" style="left:712.43px;top:433px;font-size:9.2px;color:#929292;-webkit-text-stroke:0.25px #929292;transform:scaleX(0.9822);">USD</div>
<div class="t" style="left:826.43px;top:432px;font-size:9.6px;color:#6568cf;-webkit-text-stroke:0.24px #6568cf;transform:scaleX(1.0510);">0.00</div>
<div class="abs" style="left:826.7px;top:442.3px;width:19.1px;height:0;border-top:1px dashed #6568cf"></div>
<div class="ico" style="left:853.3px;top:436.09999999999997px;width:5.6px;height:3.4px;"><svg viewBox="0 0 5.6 3.4"><path d="M.4.400l2.400 2.400L5.200.400" fill="none" stroke="#9a9a9a" stroke-width=".9"/></svg></div>
<div class="t" style="left:712.43px;top:465px;font-size:9.2px;color:#929292;-webkit-text-stroke:0.25px #929292;transform:scaleX(0.9822);">USD</div>
<div class="t" style="left:826.43px;top:464px;font-size:9.6px;color:#9a9a9a;-webkit-text-stroke:0.24px #9a9a9a;transform:scaleX(1.0510);">0.00</div>
<div class="abs" style="left:826.7px;top:474.5px;width:19.1px;height:0;border-top:1px dashed #c9c9c9"></div>
<div class="ico" style="left:853.3px;top:468.29999999999995px;width:5.6px;height:3.4px;"><svg viewBox="0 0 5.6 3.4"><path d="M.4.400l2.400 2.400L5.200.400" fill="none" stroke="#9a9a9a" stroke-width=".9"/></svg></div>
<div class="t" style="left:838.94px;top:498px;font-size:9.6px;color:#333;font-weight:700;">0</div>
<div class="abs" style="left:1122.6px;top:259px;width:5.3px;height:256.8px;background:#d8d8d8;border-radius:2.600px"></div>
<div class="abs" style="left:703px;top:518.8px;width:425.8px;height:221px;background:#f8fafb;"></div>
<div class="abs" style="left:703px;top:739.4px;width:425.8px;height:1.1px;background:#e9e9e9;"></div>
<div class="abs" style="left:1128.3px;top:197.8px;width:1.2px;height:584.2px;background:#ededed;"></div>
<div class="abs" style="left:1167.5px;top:197.8px;width:157.5px;height:34.9px;background:#f8fafc;"></div>
<div class="abs" style="left:1129.5px;top:232.7px;width:195.5px;height:1.1px;background:#e9e9e9;"></div>
<div class="abs" style="left:1129.5px;top:232.7px;width:38px;height:1.1px;background:#ffffff;"></div>
<div class="abs" style="left:1167.2px;top:197.8px;width:1px;height:35px;background:#e9e9e9;"></div>
<div class="abs" style="left:1205.4px;top:197.8px;width:1px;height:35px;background:#e9e9e9;"></div>
<div class="ico" style="left:1141.6px;top:209px;width:13.7px;height:13.4px;"><svg viewBox="0 0 24 24"><path fill="none" stroke="#4a4a4a" stroke-width="2" stroke-linejoin="round" d="M10.300 2h3.400l.6 2.700 1.700.7L18.400 4l2.400 2.400-1.500 2.300.7 1.700 2.700.600v3.400l-2.700.600-.7 1.700 1.500 2.400-2.400 2.400-2.400-1.500-1.700.7-.6 2.700h-3.400l-.6-2.700-1.700-.7L5.600 21.500 3.200 19.100l1.500-2.400L4 15l-2.700-.600V11l2.700-.600.7-1.700L3.200 6.400 5.600 4 8 5.400l1.700-.7z"/><circle cx="12" cy="12.700" r="3.400" fill="none" stroke="#4a4a4a" stroke-width="2"/></svg></div>
<div class="ico" style="left:1180.8px;top:209.8px;width:12px;height:12px;"><svg viewBox="0 0 12 12"><g fill="none" stroke="#7a7a7a" stroke-width="1"><circle cx="6" cy="2.300" r="1.700"/><circle cx="2.200" cy="9.700" r="1.700"/><circle cx="9.800" cy="9.700" r="1.700"/><path d="M5.300 3.900L2.800 8.100M6.700 3.900l2.500 4.200"/></g></svg></div>
<div class="ico" style="left:1306.2px;top:212.4px;width:6.8px;height:6.4px;"><svg viewBox="0 0 6.800 6.400"><path d="M.5.500l2.700 2.700L.5 5.900M3.600.500l2.700 2.700-2.700 2.700" fill="none" stroke="#444" stroke-width="1.250"/></svg></div>
<div class="t" style="left:1139.35px;top:254px;font-size:9.2px;color:#363c40;font-weight:700;letter-spacing:1.2px;transform:scaleX(0.8953);">NOTES</div>
<div class="ico" style="left:1302.9px;top:254.6px;width:8.8px;height:5.2px;"><svg viewBox="0 0 8.800 5.200"><path d="M.5.500l3.900 3.900L8.300.500" fill="none" stroke="#333" stroke-width="1.200"/></svg></div>
<div class="abs" style="left:1139.4px;top:274.2px;width:175.6px;height:88.5px;background:#fff;border:1px solid #e6e6e6;border-radius:3.5px"></div>
<div class="t" style="left:1147.91px;top:283px;font-size:9.4px;color:#828282;-webkit-text-stroke:0.25px #828282;transform:scaleX(1.0165);">Add a note ...</div>
<div class="ico" style="left:1308px;top:355.5px;width:5px;height:5px;"><svg viewBox="0 0 5 5"><path d="M0 5L5 0M2.500 5L5 2.500" stroke="#777" stroke-width=".8" fill="none"/></svg></div>
<div class="abs" style="left:1129.5px;top:375.6px;width:195.5px;height:1.1px;background:#ececec;"></div>
<div class="abs" style="left:1282px;top:738.8px;width:28.9px;height:28.9px;background:#f5914e;border-radius:50%;box-shadow:0 1px 3px rgba(0,0,0,.12)"></div>
<div class="ico" style="left:1289.9px;top:746.9px;width:12px;height:12px;"><svg viewBox="0 0 12 12"><path d="M6 .8a5.200 5.200 0 1 0 3.300 9.200l1.800.6-.6-1.800A5.200 5.200 0 0 0 6 .8z" fill="none" stroke="#fff" stroke-width="1.100"/><text x="6" y="8.300" font-size="6.500" font-weight="700" fill="#fff" text-anchor="middle" font-family="Liberation Sans">?</text></svg></div>
</div></div>
</body>
</html>
